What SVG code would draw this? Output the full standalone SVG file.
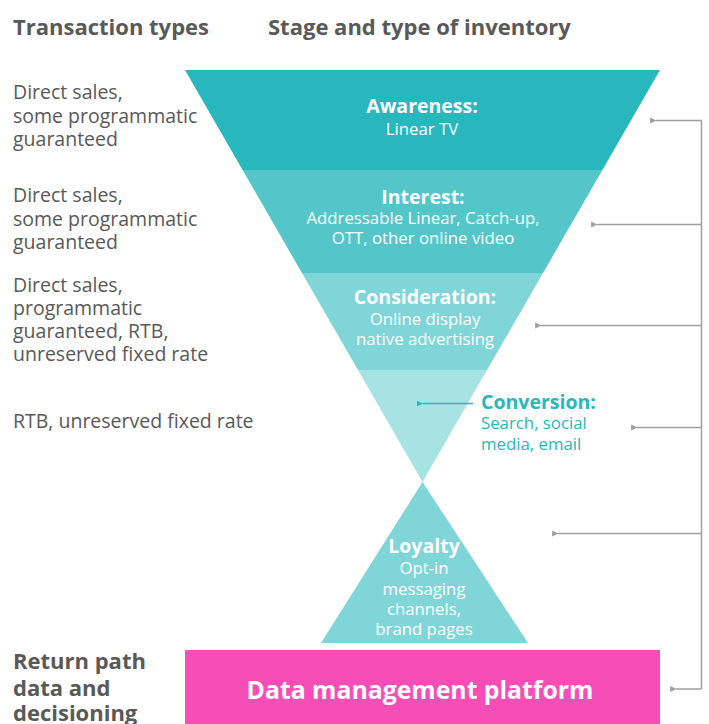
<svg xmlns="http://www.w3.org/2000/svg" width="709" height="724" viewBox="0 0 709 724">
<defs>
<style>
text{font-family:"Open Sans","Liberation Sans",sans-serif}
.hd{font-size:22px;font-weight:700;fill:#595959}
.lt{font-size:19.5px;fill:#595959}
.wt{font-size:16.8px;fill:#ffffff;text-anchor:middle}
.wb{font-size:19.5px;font-weight:700;fill:#ffffff;text-anchor:middle}
.conn{stroke:#a0a0a0;stroke-width:1.5;fill:none}
</style>
<marker id="ag" viewBox="0 0 10 10" refX="1" refY="5" markerWidth="6.5" markerHeight="6.5" markerUnits="userSpaceOnUse" orient="auto-start-reverse">
<path d="M0,5 L10,0.5 L10,9.5 Z" fill="#a0a0a0"/>
</marker>
<marker id="at" viewBox="0 0 10 10" refX="1" refY="5" markerWidth="6.5" markerHeight="6.5" markerUnits="userSpaceOnUse" orient="auto-start-reverse">
<path d="M0,5 L10,0.5 L10,9.5 Z" fill="#27b7bd"/>
</marker>
</defs>
<rect width="709" height="724" fill="#ffffff"/>
<g id="headers">
<text class="hd" x="13" y="35">Transaction types</text>
<text class="hd" x="268" y="35">Stage and type of inventory</text>
</g>
<g id="transaction-types">
<text class="lt" x="13" y="99">Direct sales,</text>
<text class="lt" x="13" y="122.5">some programmatic</text>
<text class="lt" x="13" y="146">guaranteed</text>
<text class="lt" x="13" y="202">Direct sales,</text>
<text class="lt" x="13" y="225.5">some programmatic</text>
<text class="lt" x="13" y="249">guaranteed</text>
<text class="lt" x="13" y="291.5">Direct sales,</text>
<text class="lt" x="13" y="314.5">programmatic</text>
<text class="lt" x="13" y="337.5">guaranteed, RTB,</text>
<text class="lt" x="13" y="360.5">unreserved fixed rate</text>
<text class="lt" x="13" y="428">RTB, unreserved fixed rate</text>
</g>
<g id="awareness">
<polygon points="185,70 660,70 602.4,170 242.6,170" fill="#27b7bd"/>
<text class="wb" x="422" y="113">Awareness:</text>
<text class="wt" x="422" y="135">Linear TV</text>
</g>
<g id="interest">
<polygon points="242.6,170 602.4,170 543,273 302,273" fill="#54c6c9"/>
<text class="wb" x="423" y="204">Interest:</text>
<text class="wt" x="423" y="224">Addressable Linear, Catch-up,</text>
<text class="wt" x="423" y="244">OTT, other online video</text>
</g>
<g id="consideration">
<polygon points="302,273 543,273 487,370 358,370" fill="#7fd5d7"/>
<text class="wb" x="425" y="304">Consideration:</text>
<text class="wt" x="425" y="324.5">Online display</text>
<text class="wt" x="425" y="344.5">native advertising</text>
</g>
<g id="conversion">
<polygon points="358,370 487,370 422.5,482" fill="#a8e3e4"/>
<text x="481" y="409" style="font-size:19.5px;font-weight:700;fill:#27b7bd">Conversion:</text>
<text x="481" y="429" style="font-size:16.8px;fill:#27b7bd">Search, social</text>
<text x="481" y="450" style="font-size:16.8px;fill:#27b7bd">media, email</text>
</g>
<g id="loyalty">
<polygon points="422.5,482 528,643 321,643" fill="#7fd5d7"/>
<text class="wb" x="424" y="553">Loyalty</text>
<text class="wt" x="424" y="574">Opt-in</text>
<text class="wt" x="424" y="594.5">messaging</text>
<text class="wt" x="424" y="615">channels,</text>
<text class="wt" x="424" y="635">brand pages</text>
</g>
<g id="return-path">
<text class="hd" x="13" y="669">Return path</text>
<text class="hd" x="13" y="695.5">data and</text>
<text class="hd" x="13" y="721">decisioning</text>
</g>
<g id="dmp">
<rect x="185" y="650" width="475" height="74" fill="#f74db7"/>
<text x="420" y="699" style="font-size:24.8px;font-weight:700;fill:#ffffff;text-anchor:middle">Data management platform</text>
</g>
<g id="connectors">
<polyline class="conn" points="701.5,120.5 701.5,689"/>
<line class="conn" x1="701.5" y1="120.5" x2="656" y2="120.5" marker-end="url(#ag)"/>
<line class="conn" x1="701.5" y1="224.5" x2="597" y2="224.5" marker-end="url(#ag)"/>
<line class="conn" x1="701.5" y1="325.5" x2="541" y2="325.5" marker-end="url(#ag)"/>
<line class="conn" x1="701.5" y1="427.5" x2="637" y2="427.5" marker-end="url(#ag)"/>
<line class="conn" x1="701.5" y1="533.5" x2="558" y2="533.5" marker-end="url(#ag)"/>
<line class="conn" x1="701.5" y1="689" x2="676" y2="689" marker-end="url(#ag)"/>
<line x1="473" y1="403.5" x2="422.5" y2="403.5" stroke="#27b7bd" stroke-width="1.5" marker-end="url(#at)"/>
</g>
</svg>
